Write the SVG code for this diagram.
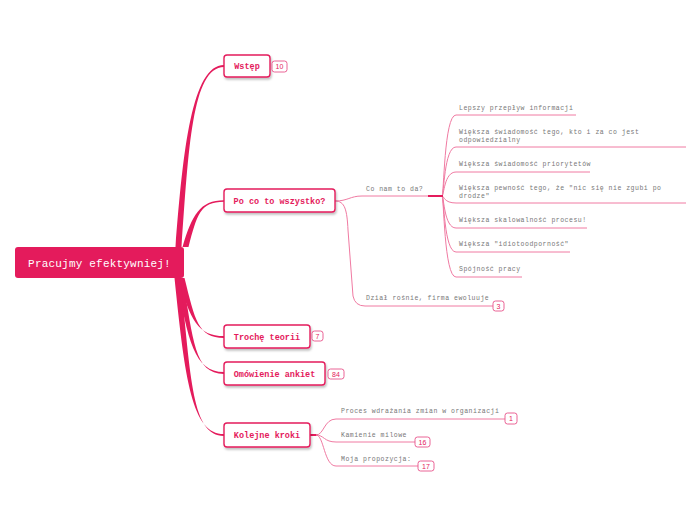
<svg xmlns="http://www.w3.org/2000/svg" width="696" height="520" viewBox="0 0 696 520">
<defs>
<filter id="sh" x="-20%" y="-30%" width="140%" height="170%">
<feDropShadow dx="1" dy="2" stdDeviation="1.2" flood-color="#000" flood-opacity="0.25"/>
</filter>
<style>
.root{fill:#e41b5c;}
.rootT{font-family:"Liberation Mono",monospace;font-size:11px;fill:#fff;text-anchor:middle;letter-spacing:0.2px;}
.node{fill:#fff;stroke:#e41b5c;stroke-width:1.4;}
.nodeT{font-family:"Liberation Mono",monospace;font-size:8.5px;fill:#e41b5c;text-anchor:middle;font-weight:bold;}
.br{fill:#e41b5c;}
.sub{fill:none;stroke:#f07aa2;stroke-width:1;}
.hub{fill:none;stroke:#e41b5c;stroke-width:2;}
.t{font-family:"Liberation Mono",monospace;font-size:6.5px;fill:#777;letter-spacing:0.5px;}
.badge{fill:#fff;stroke:#e8528a;stroke-width:0.9;}
.bT{font-family:"Liberation Sans",sans-serif;font-size:7px;fill:#e41b5c;text-anchor:middle;}
</style>
</defs>
<rect width="696" height="520" fill="#fff"/>
<g id="connectors">
<path class="br" d="M 175.5 247 C 183 150, 192 65, 224 65 L 224 67 C 192 67, 188.5 150, 181.5 247 Z"/>
<path class="br" d="M 182.5 247 C 192 215, 200 200.2, 224 200.2 L 224 201.8 C 200 201.8, 197 215, 188.5 247 Z"/>
<path class="br" d="M 178.5 278 C 190 320, 198 336.1, 224 336.1 L 224 337.9 C 198 337.9, 195 320, 184.5 278 Z"/>
<path class="br" d="M 176.5 278 C 188 340, 194 372.1, 224 372.1 L 224 373.9 C 194 373.9, 193.5 340, 182.5 278 Z"/>
<path class="br" d="M 174.5 278 C 185 380, 192 434.1, 224 434.1 L 224 435.9 C 192 435.9, 191 380, 180.5 278 Z"/>
<path class="sub" d="M 335 201 C 348 201, 350 196, 362 196 L 430 196"/>
<path class="sub" d="M 335 201 C 345 201, 347 210, 348 230 L 353 296 Q 355 306 365 306 L 493 306"/>
<path class="sub" d="M 442 196 C 444 196, 444 115, 456 115 L 576 115"/>
<path class="sub" d="M 442 196 C 444 196, 444 147, 456 147 L 686 147"/>
<path class="sub" d="M 442 196 C 444 196, 444 172, 456 172 L 590 172"/>
<path class="sub" d="M 442 196 C 444 196, 444 203, 456 203 L 686 203"/>
<path class="sub" d="M 442 196 C 444 196, 444 228, 456 228 L 587 228"/>
<path class="sub" d="M 442 196 C 444 196, 444 252, 456 252 L 570 252"/>
<path class="sub" d="M 442 196 C 444 196, 444 277, 456 277 L 522 277"/>
<path class="hub" d="M 428 196 L 443 196"/>
<path class="hub" d="M 310 435 L 318 435"/>
<path class="sub" d="M 316 435 C 324 435, 324 419, 336 419 L 505 419"/>
<path class="sub" d="M 316 435 C 324 435, 324 442, 336 442 L 415 442"/>
<path class="sub" d="M 316 435 C 324 435, 324 466, 336 466 L 418 466"/>
</g>
<g id="root">
<rect class="root" x="15" y="247" width="169" height="31" rx="3"/>
<text class="rootT" x="99.5" y="266.5">Pracujmy efektywniej!</text>
</g>
<g id="wstep">
<rect class="node" x="224" y="55" width="46" height="22" rx="3" filter="url(#sh)"/>
<text class="nodeT" x="247" y="69">Wstęp</text>
<rect class="badge" x="272" y="61" width="15" height="11" rx="2.5"/>
<text class="bT" x="279.5" y="69">10</text>
</g>
<g id="poco">
<rect class="node" x="224" y="189" width="111" height="23" rx="3" filter="url(#sh)"/>
<text class="nodeT" x="279.5" y="203.5">Po co to wszystko?</text>
</g>
<g id="conam">
<text class="t" x="366" y="191">Co nam to da?</text>
</g>
<g id="item1"><text class="t" x="459" y="109.5">Lepszy przepływ informacji</text></g>
<g id="item2"><text class="t" x="459" y="134">Większa świadomość tego, kto i za co jest</text><text class="t" x="459" y="142">odpowiedzialny</text></g>
<g id="item3"><text class="t" x="459" y="166">Większa świadomość priorytetów</text></g>
<g id="item4"><text class="t" x="459" y="190">Większa pewność tego, że "nic się nie zgubi po</text><text class="t" x="459" y="198">drodze"</text></g>
<g id="item5"><text class="t" x="459" y="222">Większa skalowalność procesu!</text></g>
<g id="item6"><text class="t" x="459" y="246">Większa "idiotoodporność"</text></g>
<g id="item7"><text class="t" x="459" y="271">Spójność pracy</text></g>
<g id="dzial">
<text class="t" x="366" y="300">Dział rośnie, firma ewoluuje</text>
<rect class="badge" x="493" y="301" width="11" height="10" rx="2.5"/>
<text class="bT" x="498.5" y="308.5">3</text>
</g>
<g id="teoria">
<rect class="node" x="224" y="325" width="86" height="23" rx="3" filter="url(#sh)"/>
<text class="nodeT" x="267" y="339.5">Trochę teorii</text>
<rect class="badge" x="312" y="331" width="11" height="10" rx="2.5"/>
<text class="bT" x="317.5" y="338.5">7</text>
</g>
<g id="ankiet">
<rect class="node" x="224" y="362" width="101" height="23" rx="3" filter="url(#sh)"/>
<text class="nodeT" x="274.5" y="376.5">Omówienie ankiet</text>
<rect class="badge" x="328" y="369" width="16" height="10" rx="2.5"/>
<text class="bT" x="336" y="376.5">84</text>
</g>
<g id="kroki">
<rect class="node" x="224" y="423" width="86" height="24" rx="3" filter="url(#sh)"/>
<text class="nodeT" x="267" y="438">Kolejne kroki</text>
</g>
<g id="proces">
<text class="t" x="341" y="413">Proces wdrażania zmian w organizacji</text>
<rect class="badge" x="505" y="413" width="12" height="11" rx="2.5"/>
<text class="bT" x="511" y="421">1</text>
</g>
<g id="kamienie">
<text class="t" x="341" y="437">Kamienie milowe</text>
<rect class="badge" x="415" y="437" width="15" height="10" rx="2.5"/>
<text class="bT" x="422.5" y="444.5">16</text>
</g>
<g id="moja">
<text class="t" x="341" y="461">Moja propozycja:</text>
<rect class="badge" x="418" y="461" width="16" height="10" rx="2.5"/>
<text class="bT" x="426" y="468.5">17</text>
</g>
</svg>
